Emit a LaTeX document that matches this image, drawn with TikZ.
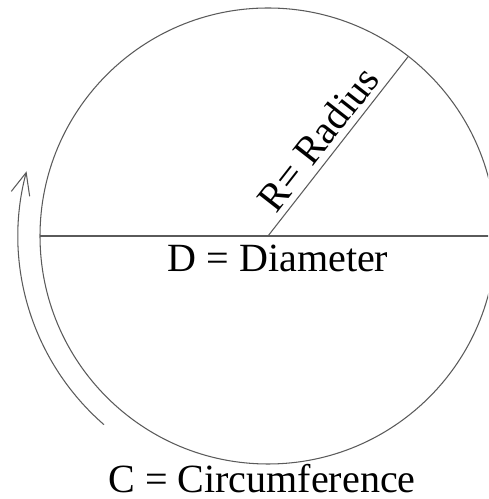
\documentclass[tikz,border=0pt]{standalone}
\usepackage{fontspec}
\setmainfont{Liberation Serif}
\usetikzlibrary{arrows.meta,positioning}
\definecolor{LineGray}{RGB}{90,90,90}

\begin{document}
\begin{tikzpicture}[x=0.02cm, y=0.02cm,
		thinline/.style={LineGray, line width=0.6pt},
		lbl/.style={font=\fontsize{22.8}{27}\selectfont, text=black, inner sep=0pt}]
		\clip (0,0) rectangle (488,499);
		% circle
		\coordinate (O) at (268,263);
		\coordinate (W) at (40,263);
		\coordinate (E) at (496,263);
		\draw[thinline] (O) circle[radius=228];
		% diameter
		\draw[thinline] (W) -- (E);
		\node[lbl, anchor=base] (diam) at (278,227) {D = Diameter};
		% radius
		\coordinate (P) at ([shift={(52:228)}]O);
		\draw[thinline] (O) -- (P) node[lbl, pos=0.47, sloped, above, inner sep=0.12cm] (rad) {R= Radius};
		% circumference
		\coordinate (A) at ([shift={(229:250)}]O);
		\draw[thinline, -{Straight Barb[length=0.44cm, width=0.38cm]}] (A) arc[start angle=229, end angle=165, radius=250];
		\node[lbl, anchor=base] (circ) at (262,7) {C = Circumference};
	\end{tikzpicture}
\end{document}
